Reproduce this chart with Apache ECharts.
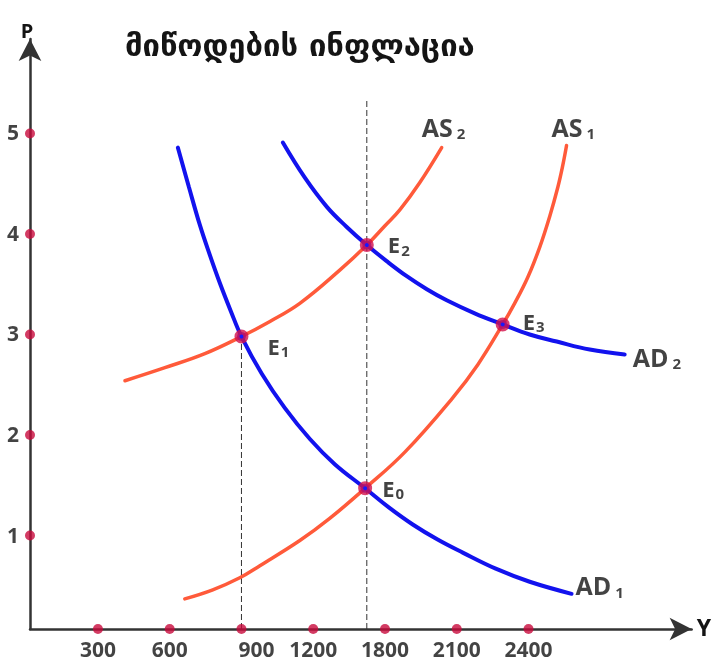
<!DOCTYPE html>
<html>
<head>
<meta charset="utf-8">
<script src="https://cdn.jsdelivr.net/npm/echarts@6/dist/echarts.min.js"></script>
<style>
html, body {margin: 0; padding: 0; background: #fff;}
#chart {width: 714px; height: 659px;}
</style>
</head>
<body>
<div id="chart"></div>
<script>
var titleText = 'მიწოდების ინფლაცია';

// axis ticks (dot positions and the labels printed under them)
var xTickValues = [300, 600, 900, 1200, 1500, 1800, 2100];
var xTickLabels = ['300', '600', '900', '1200', '1800', '2100', '2400'];
var yTickValues = [1, 2, 3, 4, 5];

// curves, [Y, P]
var ad1 = [[634, 4.86], [680, 4.47], [726, 4.09], [768, 3.79], [810, 3.51], [856, 3.23], [900, 2.98], [985, 2.61], [1081, 2.27], [1186, 1.96], [1290, 1.71], [1417, 1.47], [1516, 1.28], [1616, 1.11], [1720, 0.96], [1825, 0.83], [1963, 0.67], [2105, 0.54], [2280, 0.42]];
var ad2 = [[1073, 4.91], [1165, 4.56], [1257, 4.27], [1340, 4.07], [1424, 3.89], [1507, 3.73], [1591, 3.58], [1675, 3.45], [1758, 3.34], [1875, 3.21], [1992, 3.10], [2105, 3.00], [2218, 2.93], [2356, 2.85], [2502, 2.80]];
var as1 = [[663, 0.37], [780, 0.46], [893, 0.58], [977, 0.70], [1144, 0.95], [1269, 1.17], [1417, 1.47], [1583, 1.83], [1783, 2.37], [1888, 2.70], [1992, 3.10], [2042, 3.31], [2097, 3.57], [2147, 3.87], [2188, 4.17], [2222, 4.46], [2243, 4.68], [2259, 4.88]];
var as2 = [[413, 2.54], [580, 2.67], [747, 2.81], [900, 2.98], [1019, 3.13], [1144, 3.31], [1311, 3.64], [1424, 3.89], [1499, 4.08], [1562, 4.24], [1645, 4.51], [1737, 4.86]];

// equilibrium points
var eqNames = ['0', '1', '2', '3'];
var eqY = [1417, 900, 1424, 1992];
var eqP = [1.47, 2.98, 3.89, 3.10];
var guideTop = 5.33;

var xMin = 16, xMax = 2782;
var yMin = 0.07, yMax = 5.94;

var BLUE = '#1212ee';
var ORANGE = '#ff5a3a';
var DOT = '#c80a3c';
var INK = '#141414';
var FONT = '"Open Sans", "DejaVu Sans", sans-serif';

var richText =
{
    b: {fontFamily: FONT, fontWeight: 'bold', fontSize: 25, color: INK},
    s: {fontFamily: FONT, fontWeight: 'bold', fontSize: 15, color: INK, padding: [11, 0, 0, 4]},
    e: {fontFamily: FONT, fontWeight: 'bold', fontSize: 22, color: INK},
    t: {fontFamily: FONT, fontWeight: 'bold', fontSize: 15, color: INK, padding: [9, 0, 0, 1]}
};

function curve(name, data, color, width)
{
    return {
        name: name,
        type: 'line',
        data: data,
        smooth: 0.4,
        showSymbol: false,
        silent: true,
        z: 3,
        lineStyle: {color: color, width: width, cap: 'round'}
    };
}

function guide(x, top)
{
    return {
        type: 'line',
        data: [[x, yMin], [x, top]],
        showSymbol: false,
        silent: true,
        z: 2,
        lineStyle: {color: '#333', width: 1, type: [6, 3]}
    };
}

/* Curve name labels, anchored at the last point of each curve. */
function endItem(data, main, sub, offset)
{
    var last = data[data.length - 1];
    return {
        value: last,
        label: {offset: offset, formatter: '{b|' + main + '}{s|' + sub + '}'}
    };
}

var curveLabels = [
    endItem(as2, 'AS', '2', [-20, -18]),
    endItem(as1, 'AS', '1', [-15, -16]),
    endItem(ad2, 'AD', '2', [8, 5]),
    endItem(ad1, 'AD', '1', [4, -6])
];

var eqOffsets = [[17, 2], [26, 12], [21, 2], [20, -1]];
var eqData = eqNames.map(function(n, i)
{
    return {
        value: [eqY[i], eqP[i]],
        label: {offset: eqOffsets[i], formatter: '{e|E}{t|' + n + '}'}
    };
});

var xTickData = xTickValues.map(function(v, i)
{
    return {
        value: [v, yMin],
        label: {formatter: xTickLabels[i], offset: [xTickLabels[i] === '900' ? 15 : 0, 22]}
    };
});

var yTickData = yTickValues.map(function(v)
{
    return {value: [xMin, v], label: {formatter: String(v)}};
});

var chart = echarts.init(document.getElementById('chart'));

var option =
{
    backgroundColor: '#fff',
    animation: false,
    title:
    {
        text: titleText,
        left: 120,
        top: 27,
        textStyle: {fontFamily: '"DejaVu Sans", sans-serif', fontWeight: 'bold', fontSize: 31, color: INK}
    },
    grid: {left: 30, right: 22, top: 39, bottom: 30},
    xAxis:
    {
        type: 'value',
        min: xMin,
        max: xMax,
        splitLine: {show: false},
        axisTick: {show: false},
        axisLabel: {show: false},
        axisLine: {show: true, onZero: false, symbol: ['none', 'arrow'], symbolSize: [17, 22], lineStyle: {color: '#333', width: 2.5}},
        name: 'Y',
        nameGap: 5,
        nameTextStyle: {fontFamily: FONT, fontWeight: 'bold', fontSize: 23, color: INK, verticalAlign: 'middle', padding: [6, 0, 0, 0]}
    },
    yAxis:
    {
        type: 'value',
        min: yMin,
        max: yMax,
        splitLine: {show: false},
        axisTick: {show: false},
        axisLabel: {show: false},
        axisLine: {show: true, onZero: false, symbol: ['none', 'arrow'], symbolSize: [17, 22], lineStyle: {color: '#333', width: 2.5}},
        name: 'P',
        nameGap: -3,
        nameTextStyle: {fontFamily: FONT, fontWeight: 'bold', fontSize: 20, color: INK, align: 'center', padding: [0, 6, 0, 0]}
    },
    series: [
        guide(eqY[1], eqP[1]),
        guide(eqY[2], guideTop),
        curve('AS2', as2, ORANGE, 3.5),
        curve('AS1', as1, ORANGE, 3.5),
        curve('AD1', ad1, BLUE, 4),
        curve('AD2', ad2, BLUE, 4),
        {
            type: 'scatter',
            data: eqData,
            symbolSize: 9,
            z: 5,
            clip: false,
            itemStyle: {color: '#1a1aff', borderColor: '#d2104c', borderWidth: 5},
            label: {show: true, position: 'inside', align: 'left', verticalAlign: 'middle', rich: richText}
        },
        {
            type: 'scatter',
            data: curveLabels,
            symbolSize: 1,
            z: 5,
            clip: false,
            itemStyle: {color: 'rgba(0,0,0,0)'},
            label: {show: true, position: 'inside', align: 'left', verticalAlign: 'middle', rich: richText}
        },
        {
            type: 'scatter',
            data: xTickData,
            symbolSize: 10,
            z: 6,
            clip: false,
            itemStyle: {color: DOT},
            label: {show: true, position: 'inside', align: 'center', verticalAlign: 'middle', fontFamily: FONT, fontWeight: 'bold', fontSize: 21, color: INK}
        },
        {
            type: 'scatter',
            data: yTickData,
            symbolSize: 10,
            z: 6,
            clip: false,
            itemStyle: {color: DOT},
            label: {show: true, position: 'inside', align: 'right', verticalAlign: 'middle', offset: [-11, 1], fontFamily: FONT, fontWeight: 'bold', fontSize: 21, color: INK}
        }
    ]
};

chart.setOption(option);
</script>
</body>
</html>
